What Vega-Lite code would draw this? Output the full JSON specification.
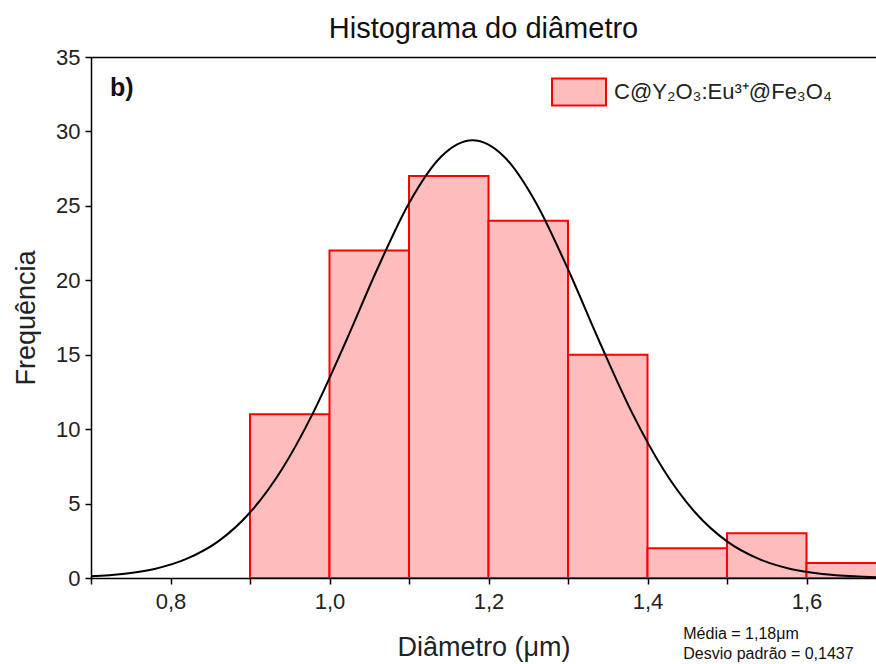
{
  "$schema": "https://vega.github.io/schema/vega-lite/v6.json",
  "autosize": {"type": "none"},
  "padding": {"left": 91, "top": 57, "right": 0, "bottom": 86},
  "width": 785,
  "height": 521,
  "config": {
    "font": "Liberation Sans",
    "view": {"stroke": null},
    "axis": {"labelFontSize": 22, "labelColor": "#222", "titleFontSize": 27, "titleFontWeight": "normal", "titleColor": "#222", "domainColor": "#000", "domainWidth": 1.5, "tickColor": "#000", "tickWidth": 1.5, "tickSize": 6, "grid": false, "labelFont": "Liberation Sans", "titleFont": "Liberation Sans"}
  },
  "title": {"text": "Histograma do diâmetro", "fontSize": 29, "fontWeight": "normal", "font": "Liberation Sans", "color": "#111", "offset": 2, "anchor": "middle"},
  "datasets": {
    "bins": [
      {"x0": 0.9, "x1": 1.0, "freq": 11, "serie": "C@Y₂O₃:Eu³⁺@Fe₃O₄"},
      {"x0": 1.0, "x1": 1.1, "freq": 22, "serie": "C@Y₂O₃:Eu³⁺@Fe₃O₄"},
      {"x0": 1.1, "x1": 1.2, "freq": 27, "serie": "C@Y₂O₃:Eu³⁺@Fe₃O₄"},
      {"x0": 1.2, "x1": 1.3, "freq": 24, "serie": "C@Y₂O₃:Eu³⁺@Fe₃O₄"},
      {"x0": 1.3, "x1": 1.4, "freq": 15, "serie": "C@Y₂O₃:Eu³⁺@Fe₃O₄"},
      {"x0": 1.4, "x1": 1.5, "freq": 2, "serie": "C@Y₂O₃:Eu³⁺@Fe₃O₄"},
      {"x0": 1.5, "x1": 1.6, "freq": 3, "serie": "C@Y₂O₃:Eu³⁺@Fe₃O₄"},
      {"x0": 1.6, "x1": 1.7, "freq": 1, "serie": "C@Y₂O₃:Eu³⁺@Fe₃O₄"}
    ],
    "curve": [
      {"d": 0.70, "f": 0.11}, {"d": 0.74, "f": 0.27}, {"d": 0.78, "f": 0.61}, {"d": 0.82, "f": 1.28},
      {"d": 0.86, "f": 2.46}, {"d": 0.90, "f": 4.40}, {"d": 0.94, "f": 7.29}, {"d": 0.98, "f": 11.16},
      {"d": 1.02, "f": 15.82}, {"d": 1.06, "f": 20.74}, {"d": 1.10, "f": 25.18}, {"d": 1.14, "f": 28.28},
      {"d": 1.18, "f": 29.4}, {"d": 1.22, "f": 28.28}, {"d": 1.26, "f": 25.18}, {"d": 1.30, "f": 20.74},
      {"d": 1.34, "f": 15.82}, {"d": 1.38, "f": 11.16}, {"d": 1.42, "f": 7.29}, {"d": 1.46, "f": 4.40},
      {"d": 1.50, "f": 2.46}, {"d": 1.54, "f": 1.28}, {"d": 1.58, "f": 0.61}, {"d": 1.62, "f": 0.27},
      {"d": 1.66, "f": 0.11}, {"d": 1.70, "f": 0.04}
    ],
    "notes": [
      {"x": 0.724, "y": 32.9, "t": "b)"}
    ],
    "stats": [
      {"x": 1.445, "y": -3.75, "t": ["Média = 1,18μm", "Desvio padrão = 0,1437"]}
    ]
  },
  "layer": [
    {
      "data": {"name": "bins"},
      "mark": {"type": "rect", "stroke": "#ff0000", "strokeWidth": 2, "clip": true},
      "encoding": {
        "x": {"field": "x0", "type": "quantitative", "scale": {"domain": [0.7, 1.6874], "nice": false, "zero": false},
          "axis": {"values": [0.7, 0.8, 0.9, 1.0, 1.1, 1.2, 1.3, 1.4, 1.5, 1.6], "labelExpr": "(round(datum.value*10) % 2 == 0) ? replace(format(datum.value, '.1f'), '.', ',') : ''", "title": "Diâmetro (μm)", "titlePadding": 22, "labelPadding": 7}},
        "x2": {"field": "x1"},
        "y": {"field": "freq", "type": "quantitative", "scale": {"domain": [0, 35], "nice": false},
          "axis": {"values": [0, 2.5, 5, 7.5, 10, 12.5, 15, 17.5, 20, 22.5, 25, 27.5, 30, 32.5, 35], "labelExpr": "datum.value % 5 == 0 ? datum.label : ''", "title": "Frequência", "titlePadding": 15, "labelPadding": 5}},
        "y2": {"datum": 0},
        "fill": {"field": "serie", "type": "nominal", "scale": {"range": ["#ffbcbc"]},
          "legend": {"title": null, "orient": "none", "legendX": 460, "legendY": 7, "symbolType": "M-1,-0.5H1V0.5H-1Z", "symbolSize": 2916, "symbolStrokeColor": "#ff0000", "symbolStrokeWidth": 2, "labelFontSize": 22, "labelFont": "Liberation Sans", "labelColor": "#222", "labelOffset": 7, "labelLimit": 400, "padding": 0}}
      }
    },
    {
      "data": {"name": "curve"},
      "mark": {"type": "line", "color": "#000", "strokeWidth": 2, "interpolate": "monotone", "clip": true},
      "encoding": {
        "x": {"field": "d", "type": "quantitative", "axis": {"orient": "top", "labels": false, "ticks": false, "title": null, "domainColor": "#000"}},
        "y": {"field": "f", "type": "quantitative"}
      }
    },
    {
      "data": {"name": "notes"},
      "mark": {"type": "text", "fontSize": 25, "fontWeight": "bold", "align": "left", "baseline": "middle", "color": "#111"},
      "encoding": {
        "x": {"field": "x", "type": "quantitative", "axis": null},
        "y": {"field": "y", "type": "quantitative"},
        "text": {"field": "t"}
      }
    },
    {
      "data": {"name": "stats"},
      "mark": {"type": "text", "fontSize": 16, "align": "left", "baseline": "middle", "color": "#111", "lineHeight": 20},
      "encoding": {
        "x": {"field": "x", "type": "quantitative", "axis": null},
        "y": {"field": "y", "type": "quantitative"},
        "text": {"field": "t"}
      }
    }
  ],
  "resolve": {"axis": {"x": "independent"}}
}
